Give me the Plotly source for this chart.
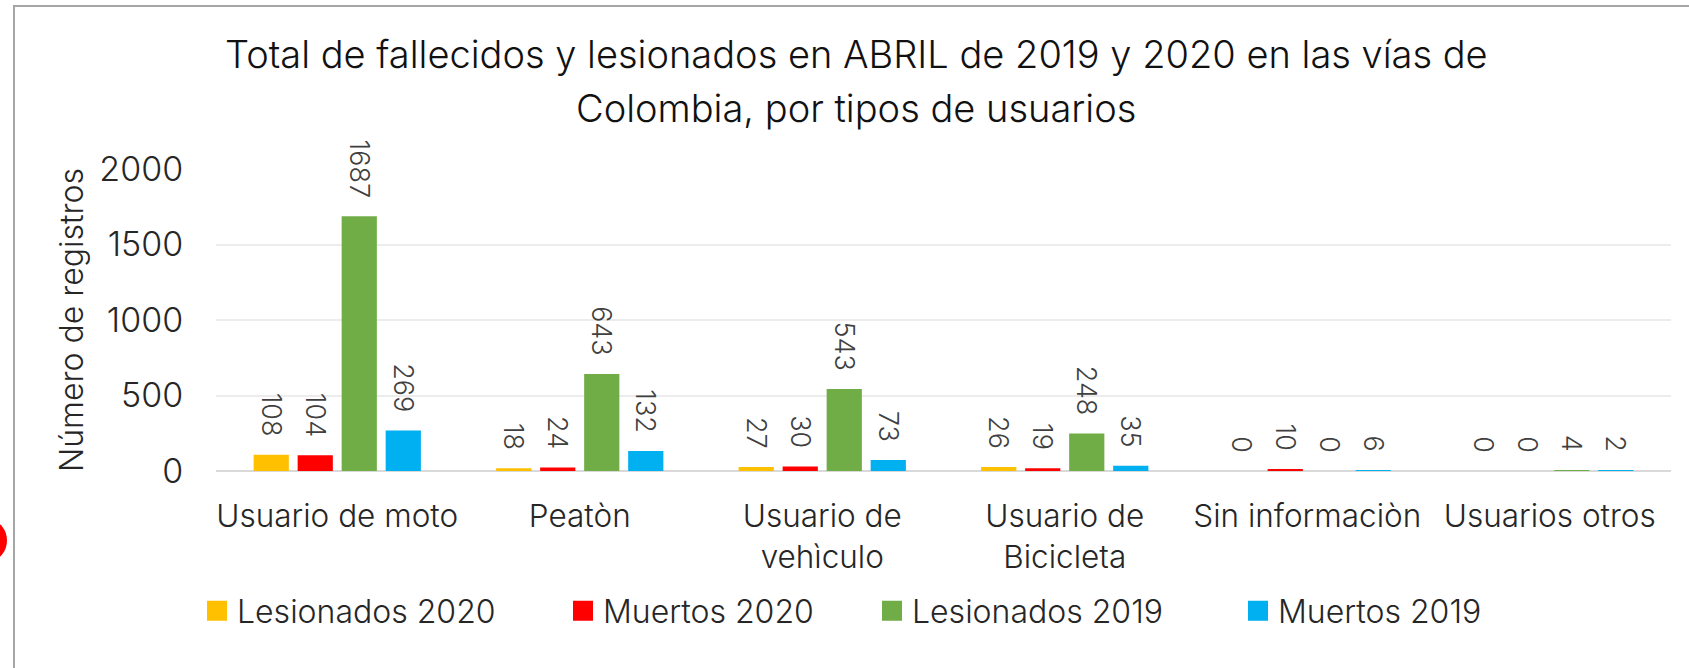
import plotly.graph_objects as go

categories = ["Usuario de moto", "Peatòn", "Usuario de<br>vehìculo", "Usuario de<br>Bicicleta",
              "Sin informaciòn", "Usuarios otros"]
series_names = ["Lesionados 2020", "Muertos 2020", "Lesionados 2019", "Muertos 2019"]
lesionados_2020 = [108, 18, 27, 26, 0, 0]
muertos_2020 = [104, 24, 30, 19, 10, 0]
lesionados_2019 = [1687, 643, 543, 248, 0, 4]
muertos_2019 = [269, 132, 73, 35, 6, 2]
colors = ["#FFC000", "#FF0000", "#70AD47", "#00B0F0"]
y_ticks = [0, 500, 1000, 1500, 2000]
title_lines = ["Total de fallecidos y lesionados en ABRIL de 2019 y 2020 en las vías de",
               "Colombia, por tipos de usuarios"]

W, H = 1689, 668
L, R, T, B = 216, 1671, 169, 471

def px_x(p):
    return (p - L) / (R - L)

def px_y(p):
    return (B - p) / (B - T)

FONT = "Inter"
WEIGHT = 300
fig = go.Figure()
series = [lesionados_2020, muertos_2020, lesionados_2019, muertos_2019]
for i, (name, vals, col) in enumerate(zip(series_names, series, colors)):
    fig.add_trace(go.Bar(
        name=name, x=categories, y=vals, marker_color=col, marker_line_width=0,
        text=[f"{v}\u00a0\u00a0" for v in vals], textposition="outside", textangle=90,
        constraintext="none",
        textfont=dict(family=FONT, size=27, color="#404040", weight=WEIGHT), cliponaxis=False,
        showlegend=False,
    ))
legend_marker_px = [217, 583, 892, 1258]
for i, (name, col) in enumerate(zip(series_names, colors)):
    lg = "legend" if i == 0 else f"legend{i + 1}"
    fig.add_trace(go.Scatter(
        name=name, x=[None], y=[None], mode="markers",
        marker=dict(symbol="square", size=16, color=col, line=dict(color=col, width=4)),
        showlegend=True, legend=lg,
    ))

legend_common = dict(orientation="h", yanchor="middle", y=px_y(611), xanchor="left",
                     font=dict(family=FONT, size=32, color="#262626", weight=WEIGHT),
                     bgcolor="rgba(0,0,0,0)", itemsizing="trace")
layout_legends = {}
for i, mx in enumerate(legend_marker_px):
    key = "legend" if i == 0 else f"legend{i + 1}"
    layout_legends[key] = dict(legend_common, x=px_x(mx - 20))

annotations = [
    dict(text=title_lines[0], xref="paper", yref="paper", x=px_x(856), y=px_y(54),
         xanchor="center", yanchor="middle", showarrow=False,
         font=dict(family=FONT, size=38, color="#111111", weight=WEIGHT)),
    dict(text=title_lines[1], xref="paper", yref="paper", x=px_x(856), y=px_y(108),
         xanchor="center", yanchor="middle", showarrow=False,
         font=dict(family=FONT, size=38, color="#111111", weight=WEIGHT)),
]

fig.update_layout(
    width=W, height=H,
    margin=dict(l=L, r=W - R, t=T, b=H - B, autoexpand=False),
    paper_bgcolor="white", plot_bgcolor="white",
    barmode="group", bargap=0.274, bargroupgap=0.2,
    font=dict(family=FONT, color="#262626"),
    xaxis=dict(type="category", showgrid=False, showline=False, ticks="outside", ticklen=17,
               tickcolor="rgba(0,0,0,0)", tickfont=dict(family=FONT, size=31.5, color="#262626", weight=WEIGHT)),
    yaxis=dict(range=[0, 2000], tickvals=y_ticks, showgrid=True, gridcolor="#ececec", gridwidth=2,
               zeroline=True, zerolinecolor="#d9d9d9", zerolinewidth=2, showline=False,
               ticks="outside", ticklen=25, tickcolor="rgba(0,0,0,0)",
               tickfont=dict(family=FONT, size=34, color="#262626", weight=WEIGHT),
               title=dict(text="Número de registros", standoff=6,
                          font=dict(family=FONT, size=32, color="#262626", weight=WEIGHT))),
    annotations=annotations,
    shapes=[
        dict(type="rect", xref="paper", yref="paper", x0=px_x(14), x1=px_x(1720), y0=px_y(700), y1=px_y(6),
             line=dict(color="#a6a6a6", width=2), fillcolor="rgba(0,0,0,0)", layer="below"),
        dict(type="circle", xref="paper", yref="paper", x0=px_x(-25), x1=px_x(7), y0=px_y(560), y1=px_y(521),
             line=dict(width=0), fillcolor="#FF0000"),
    ],
    **layout_legends,
)

fig.write_html("out.html", config={"displayModeBar": False},
               post_script="document.body.style.margin='0';")
